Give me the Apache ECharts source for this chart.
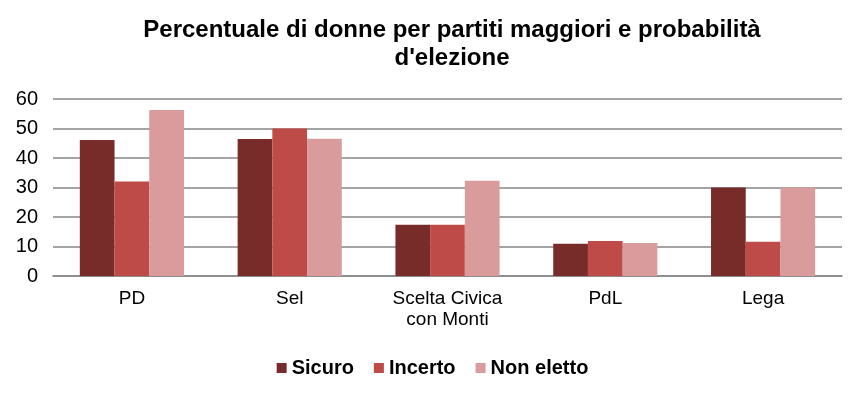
<!DOCTYPE html>
<html>
<head>
<meta charset="utf-8">
<script src="https://cdn.jsdelivr.net/npm/echarts@6/dist/echarts.min.js"></script>
<style>
  html, body { margin: 0; padding: 0; background: #fff; }
  #chart { width: 865px; height: 398px; }
</style>
</head>
<body>
<div id="chart"></div>
<script>
  var categories = ['PD', 'Sel', 'Scelta Civica\ncon Monti', 'PdL', 'Lega'];
  var sicuro = [46.1, 46.4, 17.4, 10.9, 30];
  var incerto = [32, 50, 17.4, 11.9, 11.6];
  var nonEletto = [56.3, 46.5, 32.3, 11.2, 30];
  var yTicks = [0, 60, 10];

  var chart = echarts.init(document.getElementById('chart'));
  var font = 'Liberation Sans, Arial, sans-serif';

  var option = {
    backgroundColor: '#fff',
    animation: false,
    title: {
      text: 'Percentuale di donne per partiti maggiori e probabilità\nd\'elezione',
      left: 447,
      top: 11,
      textAlign: 'center',
      textStyle: {
        fontFamily: font,
        fontSize: 24,
        fontWeight: 'bold',
        color: '#000',
        lineHeight: 28
      }
    },
    legend: {
      bottom: 15,
      left: 'center',
      itemWidth: 10,
      itemHeight: 10,
      itemGap: 20,
      icon: 'rect',
      textStyle: {
        fontFamily: font,
        fontSize: 20,
        fontWeight: 'bold',
        color: '#000'
      },
      data: ['Sicuro', 'Incerto', 'Non eletto']
    },
    grid: {
      left: 53,
      right: 23,
      top: 99,
      bottom: 122,
      containLabel: false
    },
    xAxis: {
      type: 'category',
      data: categories,
      axisLine: { lineStyle: { color: '#868686', width: 1.5 } },
      axisTick: { show: false },
      axisLabel: {
        fontFamily: font,
        fontSize: 19,
        color: '#000',
        margin: 12,
        lineHeight: 21
      }
    },
    yAxis: {
      type: 'value',
      min: yTicks[0],
      max: yTicks[1],
      interval: yTicks[2],
      axisLine: { show: false },
      axisTick: { show: false },
      splitLine: { lineStyle: { color: '#868686', width: 1.5 } },
      axisLabel: {
        fontFamily: font,
        fontSize: 20,
        color: '#000',
        margin: 15
      }
    },
    series: [
      {
        name: 'Sicuro',
        type: 'bar',
        data: sicuro,
        barGap: '0%',
        barCategoryGap: '34%',
        itemStyle: { color: '#772C2A' }
      },
      {
        name: 'Incerto',
        type: 'bar',
        data: incerto,
        itemStyle: { color: '#BE4B48' }
      },
      {
        name: 'Non eletto',
        type: 'bar',
        data: nonEletto,
        itemStyle: { color: '#D99B9B' }
      }
    ]
  };

  chart.setOption(option);
  window.addEventListener('resize', function () {
    chart.resize();
  });
</script>
</body>
</html>
